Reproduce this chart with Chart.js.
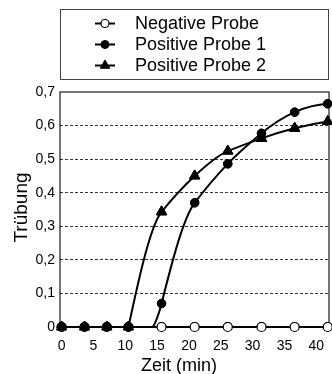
<!DOCTYPE html>
<html>
<head>
<meta charset="utf-8">
<script src="https://cdn.jsdelivr.net/npm/chart.js@4.4.1/dist/chart.umd.min.js"></script>
<style>
  html, body { margin: 0; padding: 0; background: #fff; overflow: hidden; }
  #wrap { width: 336px; height: 374px; }
</style>
</head>
<body>
<div id="wrap"><canvas id="turbChart" width="336" height="374"></canvas></div>
<script>
// ===== DATA =====
const times = [0, 3.6, 7.1, 10.5, 15.7, 20.9, 26.1, 31.4, 36.6, 41.8];
const negativeProbe = [0, 0, 0, 0, 0, 0, 0, 0, 0, 0];
const positiveProbe1 = [0, 0, 0, 0, 0.07, 0.37, 0.486, 0.577, 0.64, 0.665];
const positiveProbe2 = [0, 0, 0, 0, 0.343, 0.45, 0.524, 0.562, 0.592, 0.612];
const seriesLabels = ['Negative Probe', 'Positive Probe 1', 'Positive Probe 2'];
const xTicks = [0, 5, 10, 15, 20, 25, 30, 35, 40];
const yTicks = [0, 0.1, 0.2, 0.3, 0.4, 0.5, 0.6, 0.7];
const xTitle = 'Zeit (min)';
const yTitle = 'Trübung';

const FONT = '"Liberation Sans", Arial, sans-serif';

function toPoints(ys) {
  return times.map((t, i) => ({ x: t, y: ys[i] }));
}

// smoothing: slope at each point from the parabola through it and the next two
// points (pixel space), cubic Hermite between neighbours; flat runs stay straight
const smoothPlugin = {
  id: 'smooth',
  beforeDatasetDraw(chart, args) {
    const line = args.meta.dataset;
    const pts = args.meta.data;
    if (!line || pts.length < 3) return;
    line.updateControlPoints(chart.chartArea, 'x');
    const n = pts.length;
    const slope = (a, b) => (b.y - a.y) / (b.x - a.x);
    const m = pts.map((p, i) => {
      if (i + 2 < n) {
        const h0 = pts[i + 1].x - p.x, h1 = pts[i + 2].x - pts[i + 1].x;
        const s0 = slope(p, pts[i + 1]), s1 = slope(pts[i + 1], pts[i + 2]);
        return s0 - h0 * (s1 - s0) / (h0 + h1);
      }
      if (i + 1 < n) {
        const h0 = p.x - pts[i - 1].x, h1 = pts[i + 1].x - p.x;
        return (slope(pts[i - 1], p) * h1 + slope(p, pts[i + 1]) * h0) / (h0 + h1);
      }
      const h0 = pts[i - 1].x - pts[i - 2].x, h1 = p.x - pts[i - 1].x;
      const s0 = slope(pts[i - 2], pts[i - 1]), s1 = slope(pts[i - 1], p);
      return s1 + h1 * (s1 - s0) / (h0 + h1);
    });
    pts.forEach((p, i) => {
      const prev = pts[i - 1], next = pts[i + 1];
      const hp = prev ? (p.x - prev.x) / 3 : 0;
      const hn = next ? (next.x - p.x) / 3 : 0;
      const mIn = prev && prev.y === p.y ? 0 : m[i];
      const mOut = next && next.y === p.y ? 0 : m[i];
      p.cp1x = p.x - hp; p.cp1y = p.y - mIn * hp;
      p.cp2x = p.x + hn; p.cp2y = p.y + mOut * hn;
    });
    line._path = undefined;
  },
  afterDatasetDraw(chart, args) {
    // markers again without the bottom clip
    args.meta.data.forEach(p => p.draw(chart.ctx, chart.chartArea));
  }
};

// frame around plot area
const framePlugin = {
  id: 'frame',
  beforeDatasetsDraw(chart) {
    const { ctx, chartArea: a } = chart;
    ctx.save();
    ctx.strokeStyle = '#1a1a1a';
    ctx.lineWidth = 1.2;
    ctx.strokeRect(a.left, a.top, a.right - a.left, a.bottom - a.top);
    ctx.restore();
  }
};

// legend box with line + marker, axis titles
const extrasPlugin = {
  id: 'extras',
  afterDraw(chart) {
    const { ctx } = chart;
    ctx.save();

    ctx.strokeStyle = '#444';
    ctx.lineWidth = 1;
    ctx.strokeRect(60.5, 9.5, 268, 70);

    const rows = [23.5, 44.5, 65.5];
    chart.data.datasets.forEach((ds, r) => {
      const y = rows[r];
      ctx.strokeStyle = '#000';
      ctx.lineWidth = 2;
      ctx.beginPath();
      ctx.moveTo(95, y);
      ctx.lineTo(115, y);
      ctx.stroke();
      ctx.fillStyle = ds.pointBackgroundColor;
      ctx.strokeStyle = ds.pointBorderColor;
      ctx.lineWidth = ds.pointBorderWidth;
      Chart.helpers.drawPoint(ctx, {
        pointStyle: ds.pointStyle,
        radius: ds.pointStyle === 'triangle' ? 5.5 : 4,
        borderWidth: ds.pointBorderWidth,
        rotation: 0
      }, 105, y);
      ctx.fillStyle = '#000';
      ctx.font = '18px ' + FONT;
      ctx.textBaseline = 'middle';
      ctx.textAlign = 'left';
      ctx.fillText(ds.label, 135, y + 1);
    });

    ctx.fillStyle = '#000';
    ctx.font = '18px ' + FONT;
    ctx.textAlign = 'center';
    ctx.textBaseline = 'alphabetic';
    ctx.fillText(xTitle, 179, 371);

    ctx.translate(27, 207.5);
    ctx.rotate(-Math.PI / 2);
    ctx.font = '19px ' + FONT;
    ctx.fillText(yTitle, 0, 0);
    ctx.restore();
  }
};

const commonDs = {
  borderColor: '#000',
  borderWidth: 2,
  pointBorderColor: '#000',
  tension: 0.4,
  clip: { left: 20, right: 20, top: 20, bottom: 1 }
};

const chart = new Chart(document.getElementById('turbChart'), {
  type: 'line',
  data: {
    datasets: [
      {
        ...commonDs,
        label: seriesLabels[0],
        data: toPoints(negativeProbe),
        pointStyle: 'circle',
        pointRadius: 4.5,
        pointBackgroundColor: '#fff',
        pointBorderWidth: 1.2,
        order: 2
      },
      {
        ...commonDs,
        label: seriesLabels[1],
        data: toPoints(positiveProbe1),
        pointStyle: 'circle',
        pointRadius: 4.2,
        pointBackgroundColor: '#000',
        pointBorderWidth: 1,
        order: 1
      },
      {
        ...commonDs,
        label: seriesLabels[2],
        data: toPoints(positiveProbe2),
        pointStyle: 'triangle',
        pointRadius: 6,
        pointBackgroundColor: '#000',
        pointBorderWidth: 1,
        order: 0
      }
    ]
  },
  options: {
    responsive: false,
    animation: false,
    layout: { padding: { top: 92, right: 4.5, left: 0, bottom: 0 } },
    plugins: { legend: { display: false }, tooltip: { enabled: false } },
    scales: {
      x: {
        type: 'linear',
        min: -0.25,
        max: 42,
        afterFit: s => { s.height = 47; },
        afterBuildTicks: s => { s.ticks = xTicks.map(v => ({ value: v })); },
        grid: { display: false, drawTicks: false },
        border: { display: false },
        ticks: { padding: 11, color: '#000', font: { family: FONT, size: 14 }, maxRotation: 0 }
      },
      y: {
        min: 0,
        max: 0.7,
        afterFit: s => { s.width = 60; },
        afterBuildTicks: s => { s.ticks = yTicks.map(v => ({ value: v })); },
        grid: {
          drawTicks: false,
          lineWidth: 1,
          color: c => {
            const v = c.tick ? c.tick.value : 0;
            return (v === yTicks[0] || v === yTicks[yTicks.length - 1]) ? 'rgba(0,0,0,0)' : '#333';
          }
        },
        border: { display: false, dash: [3, 2] },
        ticks: {
          padding: 5,
          color: '#000',
          font: { family: FONT, size: 14 },
          callback: v => v === 0 ? '0' : v.toFixed(1).replace('.', ',')
        }
      }
    }
  },
  plugins: [framePlugin, smoothPlugin, extrasPlugin]
});
</script>
</body>
</html>
